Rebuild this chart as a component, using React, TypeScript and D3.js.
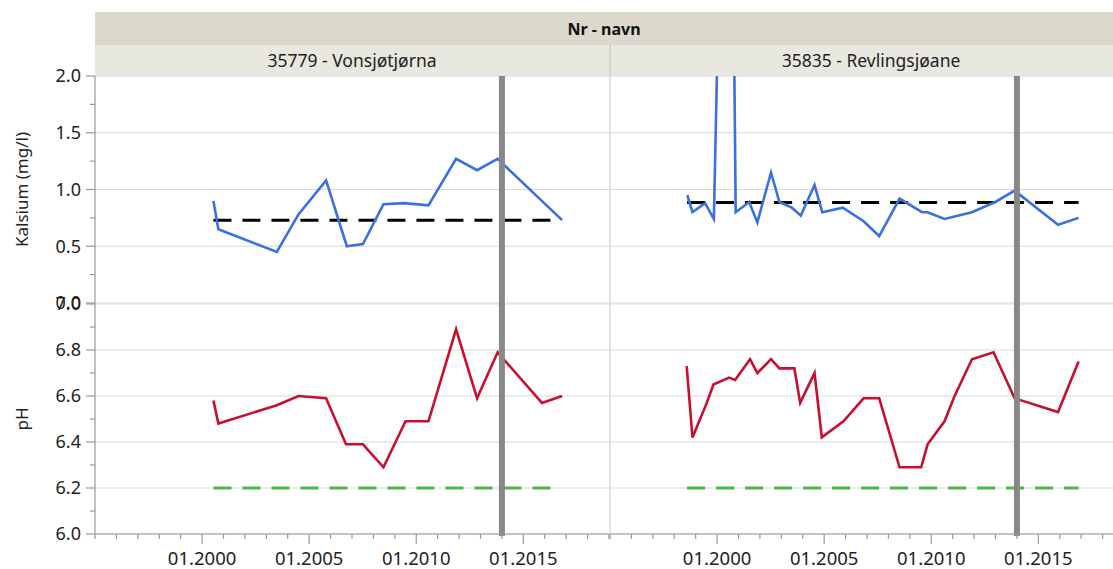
import React from "react";
import * as d3 from "d3";

// ---- Data ----
const panelNames = ["35779 - Vonsjøtjørna", "35835 - Revlingsjøane"];
const headerTitle = "Nr - navn";
const caTitle = "Kalsium (mg/l)";
const phTitle = "pH";

// Panel 1 (35779)
const caYears1 = [2000.53, 2000.76, 2003.49, 2004.5, 2005.79, 2006.76, 2007.51, 2008.47, 2009.41, 2010.57, 2011.86, 2012.84, 2013.8, 2016.81];
const caValues1 = [0.9, 0.65, 0.45, 0.78, 1.08, 0.5, 0.52, 0.87, 0.88, 0.86, 1.27, 1.17, 1.27, 0.73];
const phYears1 = [2000.53, 2000.76, 2003.49, 2004.5, 2005.79, 2006.72, 2007.51, 2008.47, 2009.5, 2010.57, 2011.86, 2012.84, 2013.8, 2015.87, 2016.81];
const phValues1 = [6.58, 6.48, 6.56, 6.6, 6.59, 6.39, 6.39, 6.29, 6.49, 6.49, 6.89, 6.59, 6.79, 6.57, 6.6];
const caRef1 = 0.73;
const refRange1 = [2000.53, 2016.5];

// Panel 2 (35835)
const caYears2 = [1998.61, 1998.85, 1999.44, 1999.85, 2000.55, 2000.87, 2001.5, 2001.88, 2002.52, 2002.91, 2003.49, 2003.91, 2004.55, 2004.91, 2005.87, 2006.84, 2007.57, 2008.52, 2009.57, 2009.83, 2010.62, 2011.9, 2012.99, 2013.89, 2015.92, 2016.88];
const caValues2 = [0.95, 0.8, 0.88, 0.74, 7.0, 0.8, 0.89, 0.71, 1.15, 0.89, 0.84, 0.77, 1.04, 0.8, 0.84, 0.72, 0.59, 0.92, 0.8, 0.8, 0.74, 0.8, 0.89, 0.99, 0.69, 0.75];
const phYears2 = [1998.58, 1998.85, 1999.52, 1999.83, 2000.56, 2000.84, 2001.54, 2001.88, 2002.52, 2002.91, 2003.61, 2003.88, 2004.55, 2004.89, 2005.9, 2006.84, 2007.57, 2008.52, 2009.53, 2009.83, 2010.62, 2011.09, 2011.9, 2012.91, 2013.89, 2015.92, 2016.88];
const phValues2 = [6.73, 6.42, 6.57, 6.65, 6.68, 6.67, 6.76, 6.7, 6.76, 6.72, 6.72, 6.57, 6.7, 6.42, 6.49, 6.59, 6.59, 6.29, 6.29, 6.39, 6.49, 6.6, 6.76, 6.79, 6.59, 6.53, 6.75];
const caRef2 = 0.885;
const refRange2 = [1998.6, 2016.88];

const phRef = 6.2;
const markerYear = 2014.0;

const caTicks = [0, 0.5, 1.0, 1.5, 2.0];
const phTicks = [6.0, 6.2, 6.4, 6.6, 6.8, 7.0];
const xMajorYears = [2000, 2005, 2010, 2015];

// ---- Layout ----
const W = 1113, H = 569;
const plotLeft = 95;
const panelW = 514;
const caTop = 76, caBottom = 303;
const phTop = 304, phBottom = 534;
const FONT = "'Noto Sans', 'Open Sans', sans-serif";

const yCa = d3.scaleLinear().domain([0, 2]).range([caBottom, caTop]);
const yPh = d3.scaleLinear().domain([6, 7]).range([phBottom, phTop]);

function Panel({ idx, caYears, caValues, phYears, phValues, caRef, refRange }: any) {
  const x0 = plotLeft + idx * (panelW + 1);
  const x = d3.scaleLinear().domain([1995, 2019]).range([x0, x0 + panelW]);
  const caLine = d3.line<number>().x((_, i) => x(caYears[i])).y((v) => yCa(v));
  const phLine = d3.line<number>().x((_, i) => x(phYears[i])).y((v) => yPh(v));
  const clipCa = `clipCa${idx}`;
  const clipPh = `clipPh${idx}`;
  const years = d3.range(1995, 2020);
  return (
    <g>
      <defs>
        <clipPath id={clipCa}>
          <rect x={x0} y={caTop} width={panelW} height={caBottom - caTop} />
        </clipPath>
        <clipPath id={clipPh}>
          <rect x={x0} y={phTop} width={panelW} height={phBottom - phTop} />
        </clipPath>
      </defs>
      {/* subheader */}
      <rect x={x0} y={45} width={panelW} height={31} fill="#e9e8e0" />
      <text x={x0 + panelW / 2 + (idx === 1 ? 4 : 0)} y={67} textAnchor="middle" fontFamily={FONT} fontSize={17.5} fill="#222">
        {panelNames[idx]}
      </text>
      {/* grid */}
      {caTicks.map((t) => (
        <line key={"gc" + t} x1={x0} x2={x0 + panelW} y1={yCa(t)} y2={yCa(t)} stroke="#d9d9d9" strokeWidth={1.2} />
      ))}
      {phTicks.map((t) => (
        <line key={"gp" + t} x1={x0} x2={x0 + panelW} y1={yPh(t)} y2={yPh(t)} stroke="#d9d9d9" strokeWidth={1.2} />
      ))}
      {idx === 1 && <line x1={x0} x2={x0} y1={caTop} y2={phBottom} stroke="#d9d9d9" strokeWidth={1.5} />}
      {/* reference lines */}
      <line x1={x(refRange[0])} x2={x(refRange[1])} y1={yCa(caRef)} y2={yCa(caRef)} stroke="#000" strokeWidth={3} strokeDasharray="18,11" />
      <line x1={x(refRange[0])} x2={x(refRange[1])} y1={yPh(phRef)} y2={yPh(phRef)} stroke="#4cb848" strokeWidth={3} strokeDasharray="18,11" />
      {/* data lines */}
      <path d={caLine(caValues) || ""} fill="none" stroke="#3a70e0" strokeWidth={2.6} clipPath={`url(#${clipCa})`} strokeLinejoin="miter" />
      <path d={phLine(phValues) || ""} fill="none" stroke="#c8102e" strokeWidth={2.6} clipPath={`url(#${clipPh})`} strokeLinejoin="miter" />
      {/* marker vertical line */}
      <line x1={x(markerYear)} x2={x(markerYear)} y1={caTop} y2={phBottom + 2} stroke="#888" strokeWidth={6} />
      {/* x axis */}
      <line x1={x0} x2={x0 + panelW} y1={phBottom} y2={phBottom} stroke="#999" strokeWidth={1.2} />
      {years.map((yr) => {
        const major = xMajorYears.includes(yr);
        return (
          <line key={"xt" + yr} x1={x(yr)} x2={x(yr)} y1={phBottom} y2={phBottom + (major ? 10 : 5)} stroke="#999" strokeWidth={1.2} />
        );
      })}
      {xMajorYears.map((yr) => (
        <text key={"xl" + yr} x={x(yr)} y={565} textAnchor="middle" fontFamily={FONT} fontSize={18.5} fill="#222">
          {"01." + yr}
        </text>
      ))}
    </g>
  );
}

export default function App() {
  const caMinor = d3.range(0.25, 2, 0.5);
  const phMinor = [6.1, 6.3, 6.5, 6.7, 6.9];
  return (
    <svg width={W} height={H} style={{ position: "absolute", left: 0, top: 0, background: "#fff" }}>
      <rect x={0} y={0} width={W} height={H} fill="#fff" />
      {/* top header */}
      <rect x={plotLeft} y={12} width={W - plotLeft} height={33} fill="#dcd9cc" />
      <text x={604} y={35} textAnchor="middle" fontFamily={FONT} fontSize={16} fontWeight="bold" fill="#111">
        {headerTitle}
      </text>
      <Panel idx={0} caYears={caYears1} caValues={caValues1} phYears={phYears1} phValues={phValues1} caRef={caRef1} refRange={refRange1} />
      <Panel idx={1} caYears={caYears2} caValues={caValues2} phYears={phYears2} phValues={phValues2} caRef={caRef2} refRange={refRange2} />
      {/* subheader divider */}
      <line x1={610} x2={610} y1={45} y2={76} stroke="#d5d4cc" strokeWidth={2} />
      {/* y axis */}
      <line x1={plotLeft} x2={plotLeft} y1={caTop} y2={phBottom} stroke="#999" strokeWidth={1.2} />
      {caTicks.map((t) => (
        <g key={"yc" + t}>
          <line x1={plotLeft - 9} x2={plotLeft} y1={yCa(t)} y2={yCa(t)} stroke="#999" strokeWidth={1.2} />
          <text x={81} y={yCa(t)} dy="0.35em" textAnchor="end" fontFamily={FONT} fontSize={18} fill="#222">
            {t.toFixed(1)}
          </text>
        </g>
      ))}
      {caMinor.map((t) => (
        <line key={"ycm" + t} x1={plotLeft - 5} x2={plotLeft} y1={yCa(t)} y2={yCa(t)} stroke="#999" strokeWidth={1.2} />
      ))}
      {phTicks.map((t) => (
        <g key={"yp" + t}>
          <line x1={plotLeft - 9} x2={plotLeft} y1={yPh(t)} y2={yPh(t)} stroke="#999" strokeWidth={1.2} />
          <text x={81} y={yPh(t)} dy="0.35em" textAnchor="end" fontFamily={FONT} fontSize={18} fill="#222">
            {t.toFixed(1)}
          </text>
        </g>
      ))}
      {phMinor.map((t) => (
        <line key={"ypm" + t} x1={plotLeft - 5} x2={plotLeft} y1={yPh(t)} y2={yPh(t)} stroke="#999" strokeWidth={1.2} />
      ))}
      {/* axis titles */}
      <text transform={`translate(28,${(caTop + caBottom) / 2}) rotate(-90)`} textAnchor="middle" fontFamily={FONT} fontSize={17} fill="#222">
        {caTitle}
      </text>
      <text transform={`translate(28,${(phTop + phBottom) / 2}) rotate(-90)`} textAnchor="middle" fontFamily={FONT} fontSize={17} fill="#222">
        {phTitle}
      </text>
    </svg>
  );
}
